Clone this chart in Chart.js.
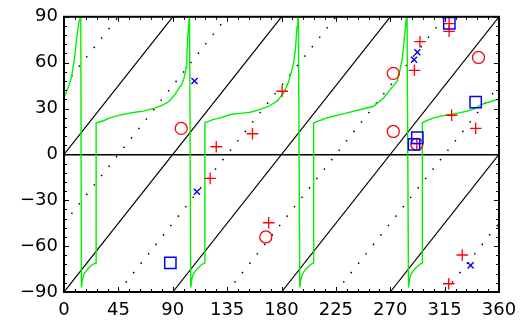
<!DOCTYPE html>
<html>
<head>
<meta charset="utf-8">
<script src="https://cdn.jsdelivr.net/npm/chart.js"></script>
<style>
  html, body { margin: 0; padding: 0; background: #fff; }
  #wrap { width: 525px; height: 328px; }
</style>
</head>
<body>
<div id="wrap"><canvas id="myChart" width="525" height="328"></canvas></div>
<script>
const xTicks = [0, 45, 90, 135, 180, 225, 270, 315, 360];
const yTicks = [-90, -60, -30, 0, 30, 60, 90];

// slope-one guide lines, y = x + c
const solidOffsets = [0, -90, -180, -270, -360];
const dottedOffsets = [45, -45, -135, -225, -315, -405];

// green curve, one jump pair per 90 degrees
const curveX = [
  0, 2, 4, 5.5, 6.5, 7.5, 8.7, 9.7, 10.7, 11.7, 12.8, 13.9,
  14.4, 15.2, 16.4, 18.4, 20.9, 23.4, 26.6,
  26.6, 29, 32.6, 38, 46.4, 56, 65.6, 75.4, 81, 85.1, 88,
  90, 91.8, 94.5, 97.3, 99, 100.1, 101, 101.7, 102.3, 103, 103.5, 103.9,
  104.9, 105.7, 106.9, 108.9, 111.4, 113.9, 116.6,
  116.6, 119, 123.8, 129.4, 137.6, 145.9, 154.2, 162.5, 169.4, 176.3,
  181.8, 184, 186, 188.7, 190.2, 191.5, 192.2, 192.9, 193.5, 194,
  195.1, 195.9, 197.1, 199.1, 201.6, 204.1, 206.6,
  206.6, 209, 213, 218, 228.6, 236, 245.2, 256.2, 264.5, 270,
  275.6, 278.4, 280, 281.1, 282.5, 283.3, 283.9,
  285.1, 285.9, 287.1, 289.1, 291.6, 294.1, 296.6,
  296.6, 300, 306, 312, 319.8, 326, 333.7, 340, 345.2, 352, 358.5, 360
];
const curveY = [
  37.5, 41, 45, 48.5, 52, 57, 63, 70, 77, 83.5, 88, 90,
  -87, -82, -78.5, -76, -74, -72, -71,
  20.5, 21.2, 22, 23.9, 25.7, 27.2, 28.3, 30.4, 32, 33.7, 35.5,
  37.5, 39.1, 42.5, 45.6, 49, 52.5, 57, 66, 74, 83, 88, 90,
  -87, -82, -78.5, -76, -74, -72, -71,
  20.7, 21.5, 22.9, 23.9, 26.1, 26.8, 27.6, 29.4, 31.5, 34.8,
  40.2, 44, 47.8, 55.4, 61, 68.4, 76, 83.5, 88, 90,
  -87, -82, -78.5, -76, -74, -72, -71,
  20.5, 21.5, 22.5, 24, 26, 27.5, 29.4, 31.5, 36.9, 42.4,
  47.8, 56.4, 63, 71.6, 82.4, 88.9, 90,
  -87, -82, -78.5, -76, -74, -72, -71,
  20.7, 22, 23.9, 25, 26.1, 27, 28.3, 30, 32.6, 34.3, 35.9, 36.2
];

const circleX = [97, 167, 272.5, 272.5, 292, 343];
const circleY = [17, -54, 53, 15, 6.6, 63.4];

const plusX = [126, 121, 156, 169.4, 180.5, 290, 294.6, 292, 318.7, 318.7, 320.8, 340.7, 329.6, 318.4];
const plusY = [5, -15.7, 13.5, -44.7, 41.3, 55, 73.7, 7, 85.6, 80.5, 25.6, 17, -65.8, -84.6];

const crossX = [108, 110, 289.7, 292.4, 336.5];
const crossY = [48, -24.4, 61.9, 66.8, -72.6];

const squareX = [88, 318.9, 340.7, 292.4, 289.7];
const squareY = [-71, 85.8, 34.2, 10.9, 6.6];

const XMIN = 0, XMAX = 360, YMIN = -90, YMAX = 90;

function pts(xs, ys) {
  return xs.map((x, i) => ({ x, y: ys[i] }));
}

function guideLine(c) {
  const x0 = Math.max(XMIN, YMIN - c);
  const x1 = Math.min(XMAX, YMAX - c);
  if (x1 <= x0) return null;
  return [{ x: x0, y: x0 + c }, { x: x1, y: x1 + c }];
}

function marker(data, style, radius, color, width) {
  return {
    data,
    showLine: false,
    pointStyle: style,
    pointRadius: radius,
    pointHoverRadius: radius,
    pointBorderColor: color,
    pointBackgroundColor: 'rgba(0,0,0,0)',
    pointBorderWidth: width,
  };
}

const datasets = [
  marker(pts(squareX, squareY), 'rect', 8, '#0000ff', 1.5),
  marker(pts(crossX, crossY), 'crossRot', 4.3, '#0000ff', 1.4),
  marker(pts(plusX, plusY), 'cross', 5.8, '#ff0000', 1.3),
  marker(pts(circleX, circleY), 'circle', 6, '#ff0000', 1.3),
  {
    data: pts(curveX, curveY),
    showLine: true,
    borderColor: '#00f000',
    borderWidth: 1.4,
    pointRadius: 0,
    tension: 0,
  },
];

solidOffsets.forEach((c) => {
  const seg = guideLine(c);
  if (!seg) return;
  datasets.push({
    data: seg, showLine: true, borderColor: '#000', borderWidth: 1.2, pointRadius: 0,
  });
});

dottedOffsets.forEach((c) => {
  const seg = guideLine(c);
  if (!seg) return;
  datasets.push({
    data: seg, showLine: true, borderColor: '#000', borderWidth: 1.5,
    borderDash: [1.5, 10.5], pointRadius: 0,
  });
});

// box frame plus inward ticks on all four sides
const frameTicks = {
  id: 'frameTicks',
  afterDatasetsDraw(chart) {
    const { ctx, chartArea: a, scales: { x, y } } = chart;
    ctx.save();
    ctx.strokeStyle = '#000';
    ctx.lineWidth = 1;
    ctx.beginPath();
    for (let v = XMIN; v <= XMAX; v += 9) {
      const px = Math.round(x.getPixelForValue(v)) + 0.5;
      const len = xTicks.includes(v) ? 5 : 3;
      ctx.moveTo(px, a.bottom); ctx.lineTo(px, a.bottom - len);
      ctx.moveTo(px, a.top); ctx.lineTo(px, a.top + len);
    }
    for (let v = YMIN; v <= YMAX; v += 6) {
      const py = Math.round(y.getPixelForValue(v)) + 0.5;
      const len = yTicks.includes(v) ? 5 : 3;
      ctx.moveTo(a.left, py); ctx.lineTo(a.left + len, py);
      ctx.moveTo(a.right, py); ctx.lineTo(a.right - len, py);
    }
    ctx.stroke();
    ctx.lineWidth = 2;
    ctx.strokeRect(a.left, a.top, a.right - a.left, a.bottom - a.top);
    ctx.restore();
  },
};

const tickFont = { family: '"DejaVu Sans", sans-serif', size: 18 };

new Chart(document.getElementById('myChart').getContext('2d'), {
  type: 'scatter',
  data: { datasets },
  options: {
    responsive: false,
    animation: false,
    events: [],
    layout: { padding: { left: 0, top: 15, right: 26, bottom: 0 } },
    plugins: { legend: { display: false }, tooltip: { enabled: false } },
    scales: {
      x: {
        type: 'linear',
        min: XMIN,
        max: XMAX,
        afterBuildTicks: (s) => { s.ticks = xTicks.map((v) => ({ value: v })); },
        afterFit: (s) => { s.height = 36; },
        grid: { display: false, drawTicks: false },
        border: { display: false },
        ticks: { color: '#000', font: tickFont, padding: 8, maxRotation: 0 },
      },
      y: {
        type: 'linear',
        min: YMIN,
        max: YMAX,
        afterBuildTicks: (s) => { s.ticks = yTicks.map((v) => ({ value: v })); },
        afterFit: (s) => { s.width = 64; },
        grid: {
          drawTicks: false,
          lineWidth: 1.6,
          color: (c) => (c.tick && c.tick.value === 0 ? '#000' : 'rgba(0,0,0,0)'),
        },
        border: { display: false },
        ticks: {
          color: '#000',
          font: tickFont,
          padding: 6,
          callback: (v) => String(v).replace('-', '\u2212'),
        },
      },
    },
  },
  plugins: [frameTicks],
});
</script>
</body>
</html>
